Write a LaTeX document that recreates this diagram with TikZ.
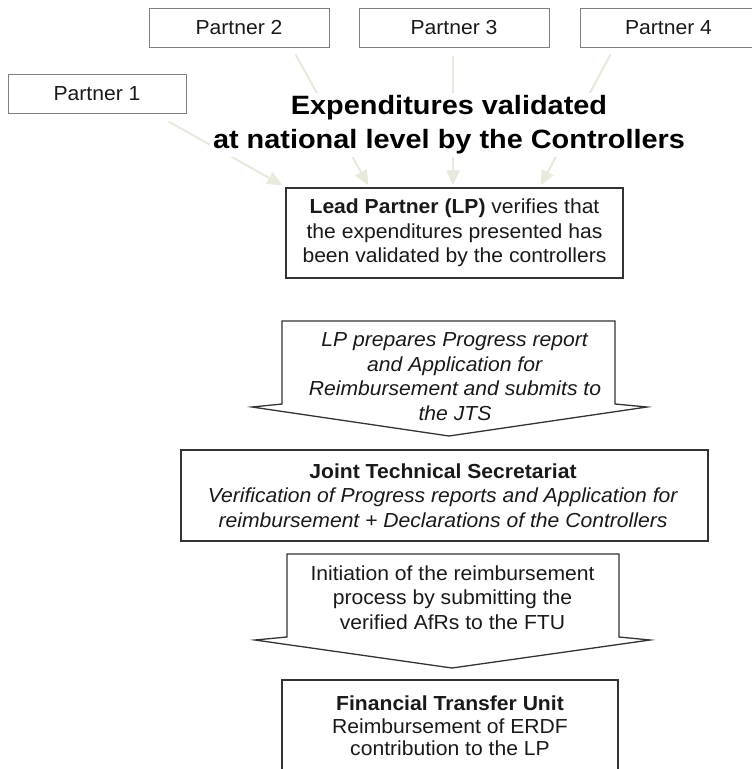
\documentclass[tikz,border=0pt]{standalone}
\usepackage{fontspec}
\setmainfont{Liberation Sans}[FakeStretch=1.04]
\newfontfamily\titlefont{Liberation Sans}[FakeStretch=1.09]
\usetikzlibrary{arrows.meta,calc}
\definecolor{feedline}{RGB}{232,232,220}
\definecolor{ink}{RGB}{25,25,25}
\tikzset{
  partnerbox/.style={draw=black!50, line width=1pt, inner sep=0pt,
    minimum height=39pt, font=\fontsize{20.3}{24}\selectfont, text=ink},
  stagebox/.style={draw=black!80, line width=1.3pt, inner sep=0pt, align=center,
    font=\fontsize{20.3}{24.5}\selectfont, text=ink},
  stagetext/.style={inner sep=0pt, align=center,
    font=\fontsize{20.3}{24.5}\selectfont, text=ink},
  chevron/.style={draw=black!80, line width=1.3pt, line join=miter},
  feed/.style={draw=feedline, line width=2pt,
    -{Triangle[length=15pt,width=13pt,fill=feedline]}},
}
\begin{document}
\begin{tikzpicture}[x=1pt,y=-1pt]
\useasboundingbox (0,0) rectangle (752,769);
\clip (0,0) rectangle (752,769);

% partners
\node[partnerbox, minimum width=178pt] (p1) at (97,93.5) {Partner 1};
\node[partnerbox, minimum width=180pt] (p2) at (239,27.5) {Partner 2};
\node[partnerbox, minimum width=190pt] (p3) at (454,27.5) {Partner 3};
\node[partnerbox, minimum width=177pt] (p4) at (668.5,27.5) {Partner 4};

% lead partner check
\node[stagebox, minimum width=337pt, minimum height=90pt] (lead) at (454.5,233)
  {\textbf{Lead Partner (LP)} verifies that\\the expenditures presented has\\been validated by the controllers};

% partner feeds into the lead partner
\coordinate (s1) at ($(p1.south east)+(-18,8)$);
\coordinate (s2) at ($(p2.south east)+(-34,7)$);
\coordinate (s3) at ($(p3.south)+(-1,8)$);
\coordinate (s4) at ($(p4.south west)+(31,7)$);
\coordinate (e1) at ($(lead.north west)+(-3,-2)$);
\coordinate (e2) at ($(lead.north west)+(83,-2)$);
\coordinate (e3) at ($(lead.north)+(-1.5,-2)$);
\coordinate (e4) at ($(lead.north east)+(-83,-2)$);
\draw[feed] (s1) -- (e1);
\draw[feed] (s2) -- (e2);
\draw[feed] (s3) -- (e3);
\draw[feed] (s4) -- (e4);

% heading, set on white over the feeds
\node[fill=white, inner xsep=3pt, inner ysep=3pt, align=center, text=black,
      font=\titlefont\bfseries\fontsize{26.5}{34}\selectfont] (title) at (449,125)
  {Expenditures validated\\at national level by the Controllers};

% step: progress report
\draw[chevron] (282,321) -- (615,321) -- (615,404) -- (647,407) -- (449,436)
  -- (252,407) -- (282,404) -- cycle;
\node[stagetext] (step1) at (455,376.5)
  {\textit{LP prepares Progress report}\\\textit{and Application for}\\\textit{Reimbursement and submits to}\\\textit{the JTS}};

% joint technical secretariat
\node[stagebox, minimum width=527pt, minimum height=91pt] (jts) at (444.5,495.5) {};
\node[stagetext] (jtstext) at (443,495.5)
  {\textbf{Joint Technical Secretariat}\\\textit{Verification of Progress reports and Application for}\\\textit{reimbursement + Declarations of the Controllers}};

% step: initiation of reimbursement
\draw[chevron] (287,554) -- (619,554) -- (619,637) -- (650,640) -- (452,668)
  -- (255,640) -- (287,637) -- cycle;
\node[stagetext] (step2) at (452.5,597.5)
  {Initiation of the reimbursement\\process by submitting the\\verified AfRs to the FTU};

% financial transfer unit
\draw[draw=black!80, line width=1.3pt] (282,680) rectangle (618,800);
\node[stagetext, font=\fontsize{20.3}{22.5}\selectfont] (ftu) at (450,726)
  {\textbf{Financial Transfer Unit}\\Reimbursement of ERDF\\contribution to the LP};
\end{tikzpicture}
\end{document}
